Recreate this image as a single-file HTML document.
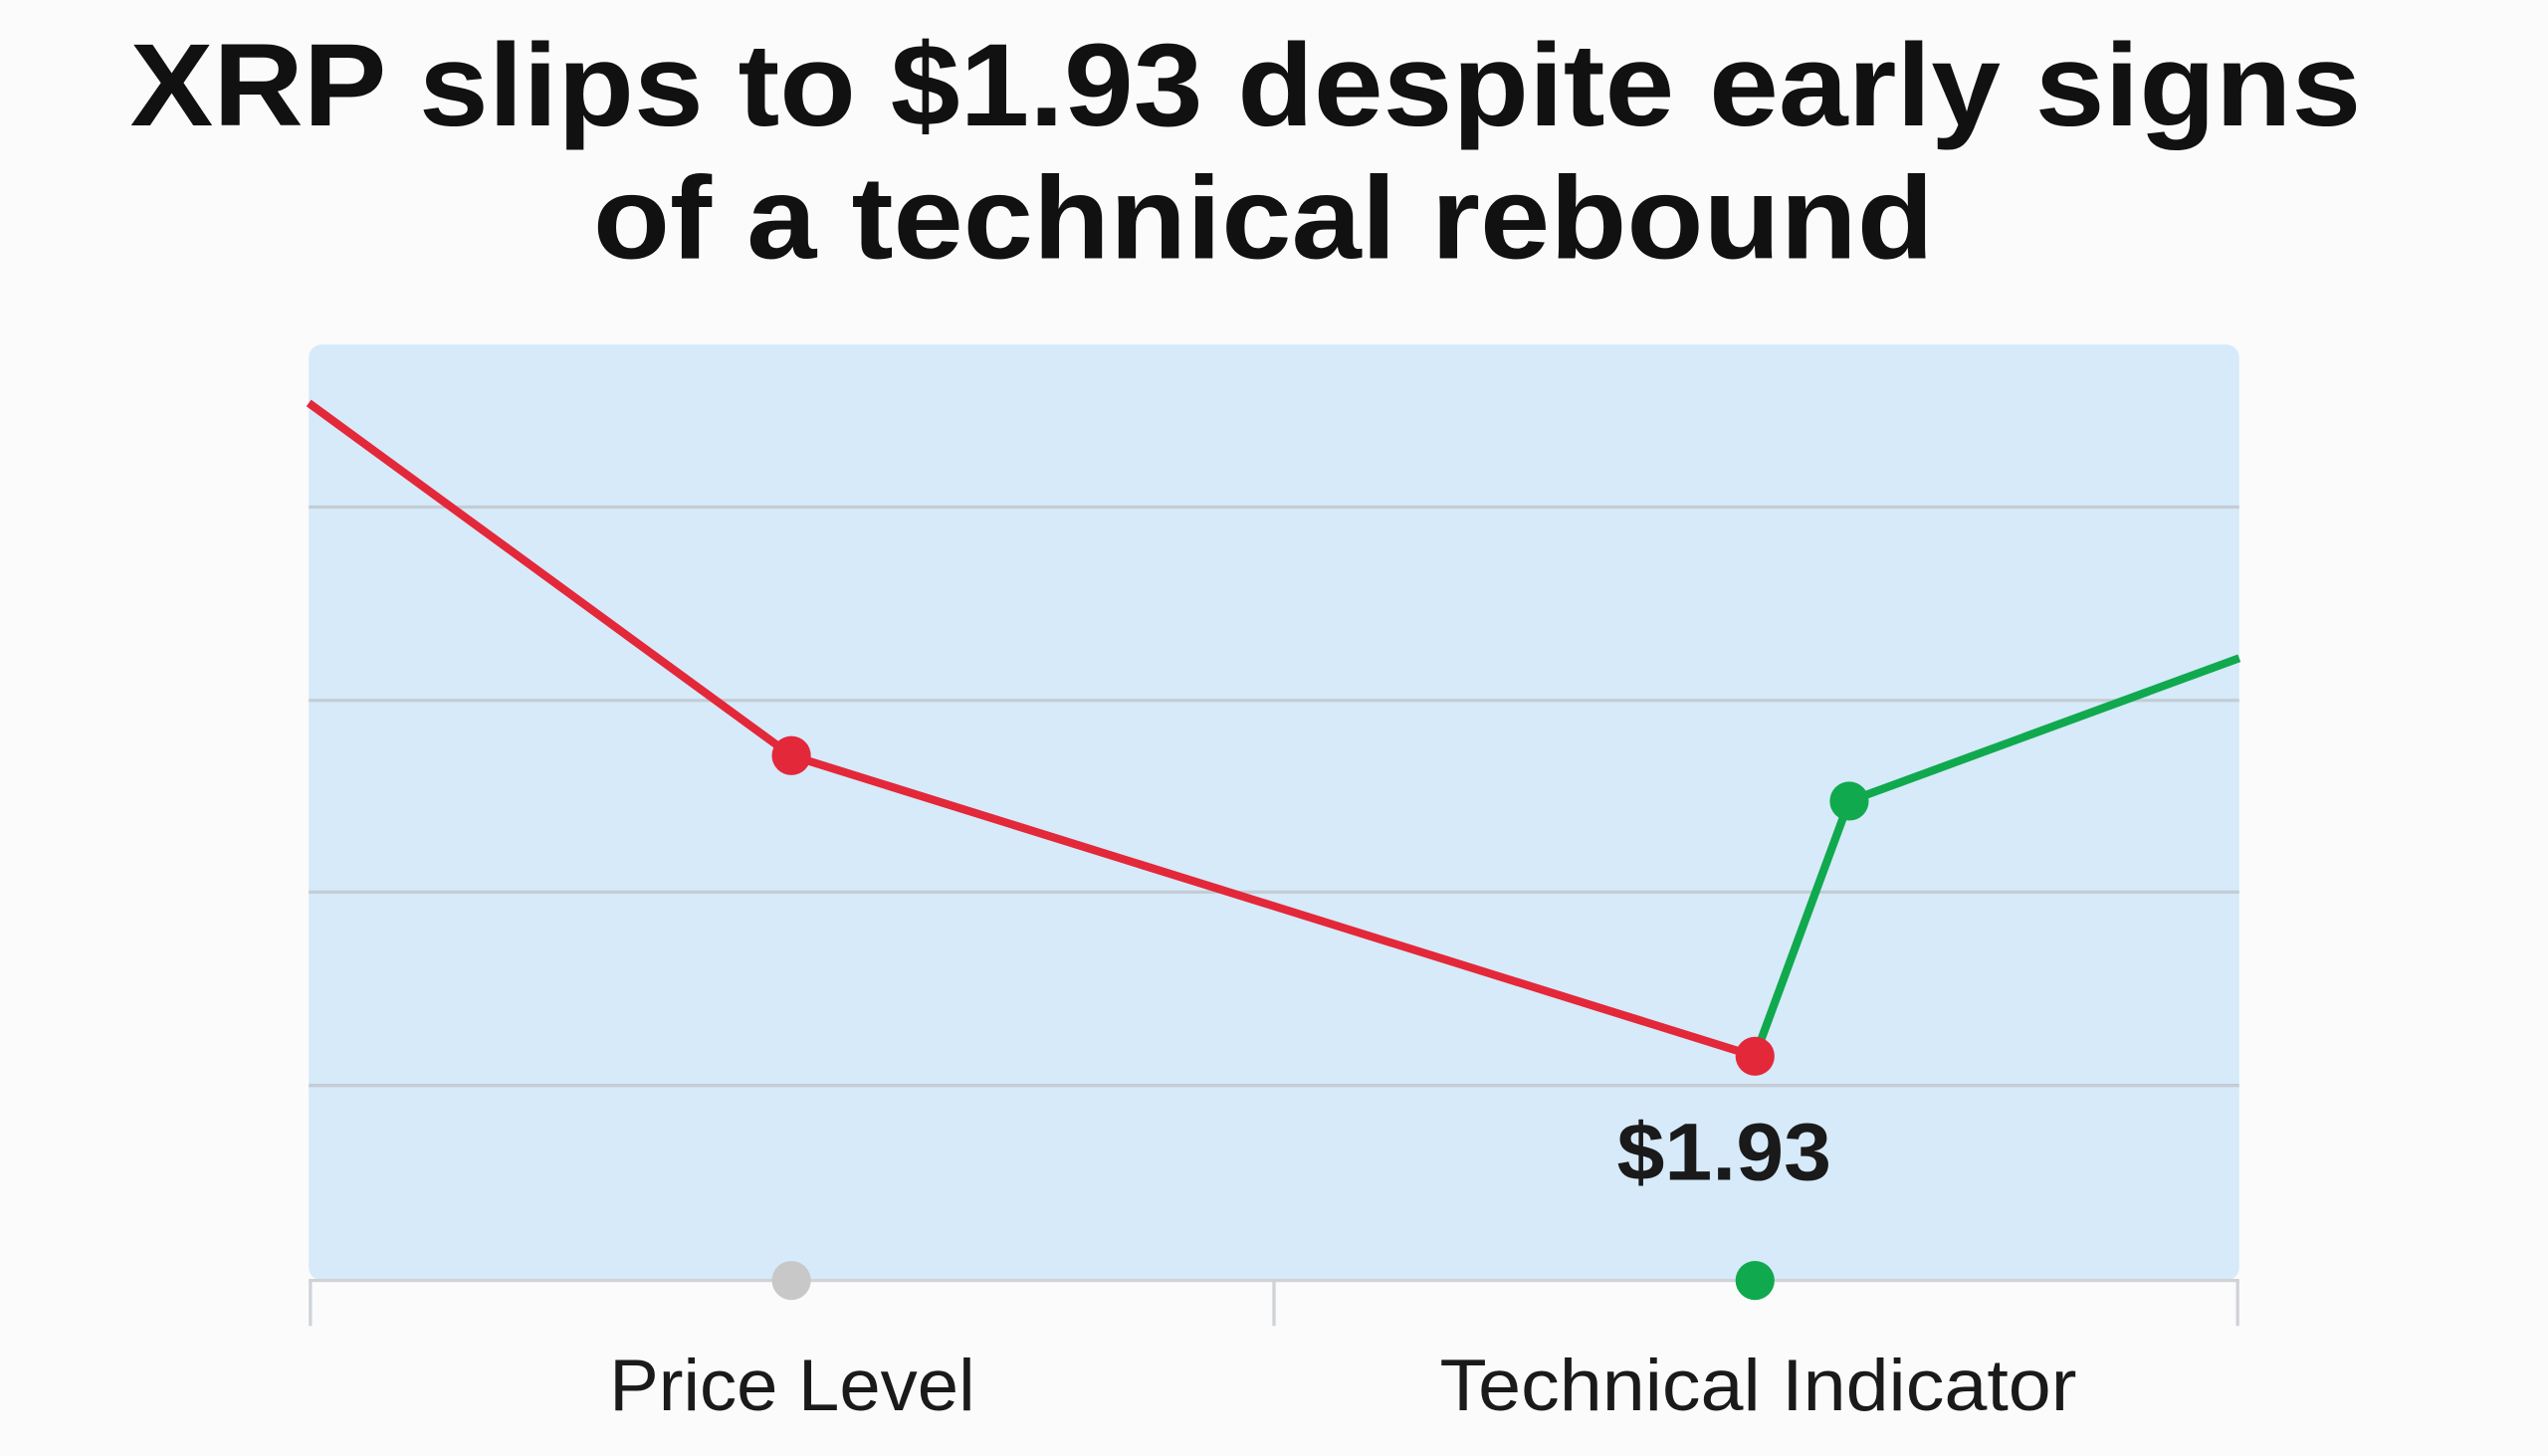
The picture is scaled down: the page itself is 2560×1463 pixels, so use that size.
<!DOCTYPE html>
<html><head><meta charset="utf-8"><style>
html,body{margin:0;padding:0;background:#fbfbfb;}
svg{display:block;}
</style></head><body>
<svg width="2560" height="1463" viewBox="0 0 1568 896" xmlns="http://www.w3.org/2000/svg">
<rect width="1568" height="896" fill="#fbfbfb"/>
<g font-family="Liberation Sans, Arial, sans-serif" fill="#111">
<text x="80" y="77" font-size="72" font-weight="bold" textLength="1373" lengthAdjust="spacingAndGlyphs">XRP slips to $1.93 despite early signs</text>
<text x="365" y="159" font-size="72" font-weight="bold" textLength="825" lengthAdjust="spacingAndGlyphs">of a technical rebound</text>
</g>
<rect x="190" y="212" width="1188" height="576" rx="8" fill="#d6eaf9"/>
<g stroke="#c4ccd4" stroke-width="2">
<line x1="190" y1="312" x2="1378" y2="312"/>
<line x1="190" y1="431" x2="1378" y2="431"/>
<line x1="190" y1="549" x2="1378" y2="549"/>
<line x1="190" y1="668" x2="1378" y2="668"/>
</g>
<g stroke="#cfd3d7" stroke-width="2">
<line x1="190" y1="788" x2="1378" y2="788"/>
<line x1="191" y1="788" x2="191" y2="816"/>
<line x1="784" y1="788" x2="784" y2="816"/>
<line x1="1377" y1="788" x2="1377" y2="816"/>
</g>
<polyline points="190,248 487,465 1080,650" fill="none" stroke="#e3283a" stroke-width="5" stroke-linejoin="round"/>
<polyline points="1080,650 1138,493 1378,405" fill="none" stroke="#10a94e" stroke-width="5" stroke-linejoin="round"/>
<circle cx="487" cy="465" r="12" fill="#e3283a"/>
<circle cx="1080" cy="650" r="12" fill="#e3283a"/>
<circle cx="1138" cy="493" r="12" fill="#10a94e"/>
<circle cx="487" cy="788" r="12" fill="#c8c8c8"/>
<circle cx="1080" cy="788" r="12" fill="#10a94e"/>
<g font-family="Liberation Sans, Arial, sans-serif" fill="#1a1a1a">
<text x="995" y="726" font-size="50" font-weight="bold" textLength="132" lengthAdjust="spacingAndGlyphs">$1.93</text>
<text x="375" y="868" font-size="45" textLength="225" lengthAdjust="spacingAndGlyphs">Price Level</text>
<text x="886" y="868" font-size="45" textLength="392" lengthAdjust="spacingAndGlyphs">Technical Indicator</text>
</g>
</svg>
</body></html>
